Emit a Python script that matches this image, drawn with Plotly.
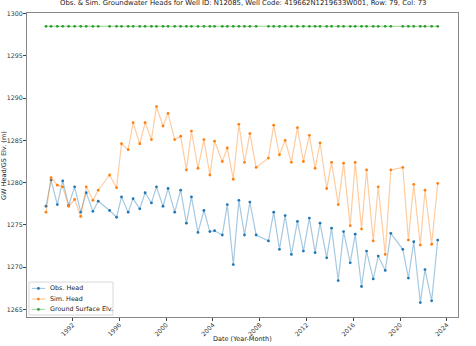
import plotly.graph_objects as go

dates = [
    "1989-09-19", "1990-02-23", "1990-09-08", "1991-02-23", "1991-08-28", "1992-03-01",
    "1992-09-08", "1993-02-27", "1993-09-23", "1994-03-09", "1995-02-27", "1995-10-03",
    "1996-03-05", "1996-09-29", "1997-03-02", "1997-09-26", "1998-03-13", "1998-09-26",
    "1999-03-02", "1999-09-23", "2000-02-27", "2000-09-23", "2001-03-27", "2001-09-23",
    "2002-02-27", "2002-09-19", "2003-03-24", "2003-09-26", "2004-02-20", "2004-10-18",
    "2005-03-24", "2005-09-26", "2006-03-20", "2006-09-11", "2007-02-27", "2007-09-11",
    "2008-09-29", "2009-03-13", "2009-09-08", "2010-03-05", "2010-09-16", "2011-03-24",
    "2011-09-26", "2012-03-31", "2012-09-26", "2013-02-27", "2013-09-23", "2014-02-23",
    "2014-09-19", "2015-03-05", "2015-09-29", "2016-03-02", "2016-09-16", "2017-02-20",
    "2017-09-16", "2018-02-20", "2018-09-26", "2019-03-20", "2020-03-28", "2020-09-19",
    "2021-03-05", "2021-09-26", "2022-02-20", "2022-09-16", "2023-03-24",
]

obs_head = [
    1277.2, 1280.3, 1277.4, 1280.2, 1277.3, 1279.5, 1276.5, 1278.8, 1276.6, 1277.8,
    1276.7, 1275.9, 1278.3, 1276.5, 1278.1, 1276.9, 1278.8, 1277.6, 1279.5, 1277.2,
    1279.3, 1276.5, 1279.1, 1275.2, 1278.3, 1274.1, 1276.7, 1274.2, 1274.3, 1273.8,
    1277.4, 1270.3, 1277.9, 1273.8, 1277.7, 1273.8, 1273.1, 1276.5, 1272.1, 1276.1,
    1271.5, 1275.4, 1271.9, 1275.8, 1271.7, 1275.2, 1271.1, 1274.6, 1268.4, 1274.2,
    1270.5, 1273.9, 1267.7, 1271.9, 1268.6, 1271.3, 1269.6, 1274.0, 1272.1, 1268.7,
    1273.0, 1265.8, 1269.7, 1266.0, 1273.2,
]

sim_head = [
    1276.5, 1280.6, 1279.7, 1279.5, 1277.2, 1278.0, 1276.0, 1279.5, 1277.9, 1279.1,
    1280.9, 1279.4, 1284.6, 1283.9, 1287.1, 1284.6, 1287.1, 1285.1, 1289.0, 1286.7,
    1288.2, 1285.1, 1285.5, 1281.5, 1286.1, 1281.7, 1285.1, 1280.9, 1284.9, 1282.5,
    1284.1, 1280.4, 1286.9, 1282.4, 1285.8, 1281.8, 1282.9, 1286.8, 1283.3, 1285.0,
    1282.4, 1286.5, 1282.5, 1285.6, 1281.7, 1284.7, 1279.3, 1282.4, 1277.4, 1282.3,
    1274.9, 1282.4, 1274.5, 1281.5, 1273.1, 1279.5, 1271.5, 1281.5, 1281.8, 1273.2,
    1279.8, 1272.6, 1279.1, 1272.7, 1279.9,
]

ground_elv = [
    1298.5, 1298.5, 1298.5, 1298.5, 1298.5, 1298.5, 1298.5, 1298.5, 1298.5, 1298.5,
    1298.5, 1298.5, 1298.5, 1298.5, 1298.5, 1298.5, 1298.5, 1298.5, 1298.5, 1298.5,
    1298.5, 1298.5, 1298.5, 1298.5, 1298.5, 1298.5, 1298.5, 1298.5, 1298.5, 1298.5,
    1298.5, 1298.5, 1298.5, 1298.5, 1298.5, 1298.5, 1298.5, 1298.5, 1298.5, 1298.5,
    1298.5, 1298.5, 1298.5, 1298.5, 1298.5, 1298.5, 1298.5, 1298.5, 1298.5, 1298.5,
    1298.5, 1298.5, 1298.5, 1298.5, 1298.5, 1298.5, 1298.5, 1298.5, 1298.5, 1298.5,
    1298.5, 1298.5, 1298.5, 1298.5, 1298.5,
]

series_names = ["Obs. Head", "Sim. Head", "Ground Surface Elv."]
x_tick_years = ["1992", "1996", "2000", "2004", "2008", "2012", "2016", "2020", "2024"]
y_ticks = [1265, 1270, 1275, 1280, 1285, 1290, 1295, 1300]

title_text = ("Obs. & Sim. Groundwater Heads for Well ID: N12085, Well Code: "
              "419662N1219633W001, Row: 79, Col: 73")
x_title = "Date (Year-Month)"
y_title = "GW Head/GS Elv. (m)"

colors = ["#1f77b4", "#ff7f0e", "#2ca02c"]
line_colors = ["rgba(31,119,180,0.4)", "rgba(255,127,14,0.4)", "rgba(44,160,44,0.4)"]
FONT = "DejaVu Sans"

fig = go.Figure()
for name, ys, c, lc in zip(series_names, [obs_head, sim_head, ground_elv], colors, line_colors):
    fig.add_trace(go.Scatter(
        x=dates, y=ys, name=name, mode="lines+markers",
        line=dict(color=lc, width=1.2),
        marker=dict(color=c, size=2.8),
        showlegend=False,
    ))

# compact matplotlib-like legend
shapes = [dict(type="rect", xref="paper", yref="paper", x0=0.0046, x1=0.1995,
               y0=0.0066, y1=0.115, line=dict(color="#d8d8d8", width=1),
               fillcolor="rgba(255,255,255,0.85)", layer="above")]
annotations = []
rows = [0.094, 0.059, 0.025]
for name, c, lc, ry in zip(series_names, colors, line_colors, rows):
    shapes.append(dict(type="line", xref="paper", yref="paper", x0=0.011, x1=0.042,
                       y0=ry, y1=ry, line=dict(color=lc, width=1.2), layer="above"))
    shapes.append(dict(type="circle", xref="paper", yref="paper",
                       x0=0.0265 - 0.0032, x1=0.0265 + 0.0032,
                       y0=ry - 0.0045, y1=ry + 0.0045,
                       line=dict(color=c, width=0), fillcolor=c, layer="above"))
    annotations.append(dict(xref="paper", yref="paper", x=0.0495, y=ry, text=name,
                            showarrow=False, xanchor="left", yanchor="middle",
                            font=dict(family=FONT, size=6.4, color="#222")))

annotations.append(dict(xref="paper", yref="paper", x=0.5, y=1.0, yshift=4,
                        text=title_text, showarrow=False, xanchor="center",
                        yanchor="bottom", font=dict(family=FONT, size=6.9, color="#222")))
annotations.append(dict(xref="paper", yref="paper", x=0.5, y=-0.0724, text=x_title,
                        showarrow=False, xanchor="center", yanchor="middle",
                        font=dict(family=FONT, size=6.5, color="#222")))
annotations.append(dict(xref="paper", yref="paper", x=-0.0534, y=0.5, text=y_title,
                        textangle=-90, showarrow=False, xanchor="center", yanchor="middle",
                        font=dict(family=FONT, size=6.5, color="#222")))

fig.update_layout(
    width=476, height=346,
    margin=dict(l=27, r=18, t=13, b=29),
    paper_bgcolor="white", plot_bgcolor="white",
    font=dict(family=FONT, size=6.2, color="#222"),
    shapes=shapes, annotations=annotations,
    showlegend=False,
)
fig.update_xaxes(
    type="date", automargin=False,
    range=["1988-02-03", "2024-12-17"],
    tickvals=[y + "-01-01" for y in x_tick_years],
    ticktext=x_tick_years,
    tickangle=-45,
    ticks="outside", ticklen=3, tickcolor="#444",
    ticklabelstandoff=-2,
    showline=True, mirror=True, linecolor="#888", linewidth=1,
    showgrid=False, zeroline=False,
    tickfont=dict(family=FONT, size=6.2, color="#333"),
)
fig.update_yaxes(
    automargin=False,
    range=[1264.09, 1300.08],
    tickvals=y_ticks,
    ticks="outside", ticklen=3, tickcolor="#444",
    ticklabelstandoff=-1,
    showline=True, mirror=True, linecolor="#888", linewidth=1,
    showgrid=False, zeroline=False,
    tickfont=dict(family=FONT, size=6.3, color="#333"),
)

fig.write_html("out.html")
